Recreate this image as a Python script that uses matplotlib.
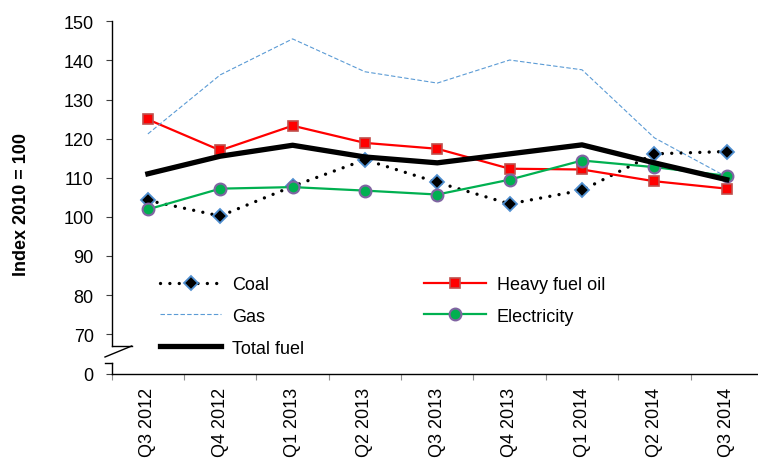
import matplotlib
matplotlib.use("Agg")
import matplotlib.pyplot as plt
from matplotlib.lines import Line2D

plt.rcParams['font.family'] = ['Liberation Sans', 'DejaVu Sans']

quarters = ["Q3 2012", "Q4 2012", "Q1 2013", "Q2 2013", "Q3 2013",
            "Q4 2013", "Q1 2014", "Q2 2014", "Q3 2014"]
coal = [104.2, 100.2, 107.8, 114.6, 108.8, 103.3, 106.8, 116.1, 116.7]
heavy_fuel_oil = [124.9, 117.0, 123.3, 118.9, 117.4, 112.3, 112.1, 109.1, 107.2]
gas = [121.2, 136.3, 145.5, 137.1, 134.2, 140.1, 137.6, 120.2, 110.2]
electricity = [101.9, 107.2, 107.6, 106.7, 105.7, 109.5, 114.4, 112.7, 110.5]
total_fuel = [111.0, 115.5, 118.3, 115.3, 113.8, 116.1, 118.4, 113.8, 109.5]
ytick_vals = [70, 80, 90, 100, 110, 120, 130, 140, 150]
y_bottom = 59.8

FS = 13
W, H = 758, 464
fig = plt.figure(figsize=(W/100, H/100), dpi=100)
left_px, right_px, top_px, bot_px = 111.7, 762.9, 22.3, 375.0
ax = fig.add_axes([left_px/W, 1-bot_px/H, (right_px-left_px)/W, (bot_px-top_px)/H])

x = list(range(len(quarters)))

l_coal, = ax.plot(x, coal, color='black', lw=2.4, linestyle=(0, (0.01, 2.8)),
                  dash_capstyle='round', marker='D', ms=6.8,
                  markerfacecolor='black', markeredgecolor='#4F8FD0', mew=1.3, zorder=3)
l_hfo, = ax.plot(x, heavy_fuel_oil, color='#FF0000', lw=1.6, marker='s', ms=7.2,
                 markerfacecolor='#FF0000', markeredgecolor='#C0504D', mew=1.2, zorder=4)
l_gas, = ax.plot(x, gas, color='#5B9BD5', lw=0.8, linestyle=(0, (4, 2)), zorder=5)
l_el, = ax.plot(x, electricity, color='#00B050', lw=1.6, marker='o', ms=8.5,
                markerfacecolor='#00B050', markeredgecolor='#8064A2', mew=1.5, zorder=6)
l_tot, = ax.plot(x, total_fuel, color='black', lw=3.8, zorder=7)

ax.set_xlim(-0.5, len(quarters) - 0.5)
ax.set_ylim(y_bottom, 150)

ax.set_yticks([y_bottom] + ytick_vals)
ax.set_yticklabels(["0"] + [str(v) for v in ytick_vals])
ax.tick_params(axis='y', direction='out', length=4, width=0.8, labelsize=FS, pad=9,
               color='#404040')

ax.set_xticks([i - 0.5 for i in range(len(quarters) + 1)])
ax.set_xticklabels([])
ax.set_xticks(x, minor=True)
ax.set_xticklabels(quarters, minor=True, rotation=90, fontsize=FS)
ax.tick_params(axis='x', which='major', direction='out', length=4, width=0.8,
               color='#909090')
ax.tick_params(axis='x', which='minor', length=0, pad=9)

for s in ['top', 'right', 'left']:
    ax.spines[s].set_visible(False)
ax.spines['bottom'].set_linewidth(1.0)

# broken left axis
aw, ah = right_px - left_px, bot_px - top_px
def fx(px):
    return (px - left_px) / aw
def fy(py):
    return (bot_px - py) / ah
segs = [
    ([fx(111.7), fx(111.7)], [fy(22.3), fy(347.0)]),
    ([fx(111.7), fx(131.7)], [fy(347.0), fy(347.0)]),
    ([fx(131.7), fx(105.0)], [fy(347.0), fy(358.0)]),
    ([fx(105.0), fx(111.7)], [fy(363.5), fy(363.5)]),
    ([fx(111.7), fx(111.7)], [fy(363.5), fy(375.0)]),
]
for xs, ys in segs:
    ax.add_line(Line2D(xs, ys, transform=ax.transAxes, color='black', lw=1.0,
                       clip_on=False, zorder=10))

ax.set_ylabel("Index 2010 = 100", fontsize=FS, fontweight='bold')
ax.yaxis.set_label_coords(-(111.7 - 30) / aw, fy(205))

leg = ax.legend([l_coal, l_gas, l_tot, l_hfo, l_el],
                ["Coal", "Gas", "Total fuel", "Heavy fuel oil", "Electricity"],
                ncol=2, loc='upper left', frameon=False, fontsize=FS,
                bbox_to_anchor=(fx(160), fy(277)), handlelength=3.4,
                handletextpad=0.6, columnspacing=6.65, labelspacing=0.82,
                borderaxespad=0, borderpad=0)

fig.savefig("out.png", dpi=100)
